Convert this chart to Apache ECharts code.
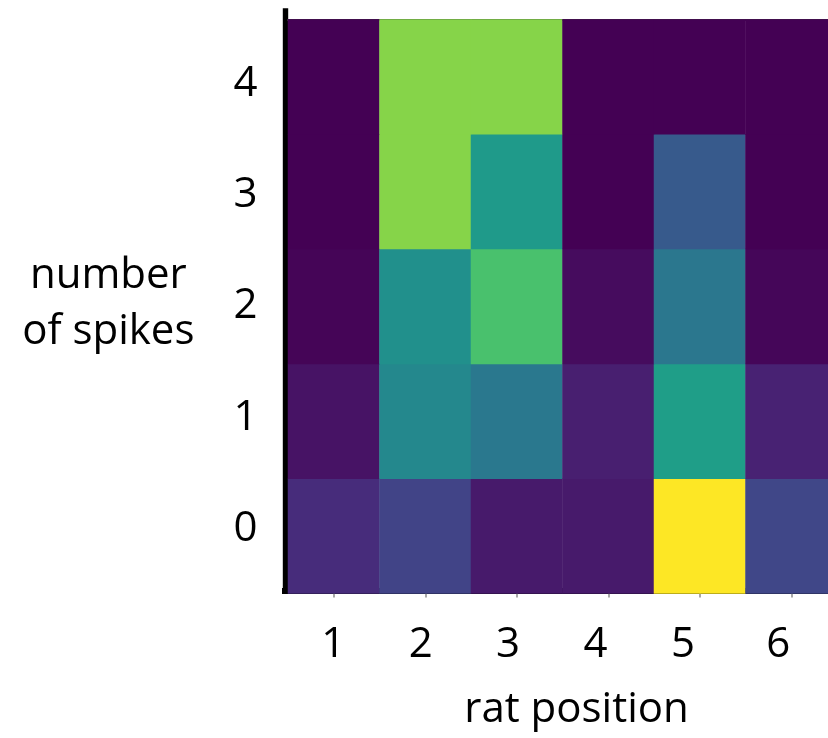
<!DOCTYPE html>
<html>
<head>
<meta charset="utf-8">
<script src="https://cdn.jsdelivr.net/npm/echarts@6/dist/echarts.min.js"></script>
<style>
  html, body { margin: 0; padding: 0; background: #fff; }
  #chart { width: 828px; height: 738px; }
</style>
</head>
<body>
<div id="chart"></div>
<script>
// Rat positions along the track (columns) and spike counts (rows)
const positions = ['1', '2', '3', '4', '5', '6'];
const spikeCounts = ['0', '1', '2', '3', '4'];

// Normalised probability of each spike count at each position (positions 1..6)
const spikes0 = [0.125, 0.20, 0.07, 0.07, 1.00, 0.21];
const spikes1 = [0.05, 0.465, 0.40, 0.085, 0.56, 0.095];
const spikes2 = [0.01, 0.495, 0.71, 0.03, 0.395, 0.015];
const spikes3 = [0.0, 0.818, 0.54, 0.0, 0.28, 0.0];
const spikes4 = [0.0, 0.818, 0.818, 0.0, 0.0, 0.0];

const rows = [spikes0, spikes1, spikes2, spikes3, spikes4];

// viridis colour ramp, sampled every 0.05
const viridis = [
  '#440154', '#471365', '#482475', '#463480', '#414487', '#3b528b', '#355f8d',
  '#2f6c8e', '#2a788e', '#25848e', '#21918c', '#1e9c89', '#22a884', '#2fb47c',
  '#44bf70', '#5ec962', '#7ad151', '#9bd93c', '#bddf26', '#dfe318', '#fde725'
];

const cells = [];
rows.forEach((row, y) => {
  row.forEach((v, x) => cells.push([x, y, v]));
});

const FONT = 'Open Sans';
const TXT = '#000';

const chart = echarts.init(document.getElementById('chart'), null, { renderer: 'canvas' });

chart.setOption({
  animation: false,
  backgroundColor: '#fff',
  grid: [
    // heat map cells (last column runs past the right edge)
    { left: 288, top: 19.5, width: 549, height: 574, outerBoundsMode: 'none' },
    // heavy L-shaped frame
    { left: 285, top: 11, width: 600, height: 580, outerBoundsMode: 'none' },
    // tick labels
    { left: 289.6, top: 28, width: 524.4, height: 557, outerBoundsMode: 'none' }
  ],
  xAxis: [
    {
      type: 'category', gridIndex: 0, data: positions,
      axisLine: { show: false },
      axisTick: { show: true, alignWithLabel: true, interval: 0, length: 4, lineStyle: { color: '#8a8a8a', width: 1.5 } },
      axisLabel: { show: false },
      splitLine: { show: false }
    },
    {
      type: 'category', gridIndex: 0, position: 'top', data: positions,
      axisLine: { show: true, lineStyle: { color: '#3a3a3a', width: 2 } },
      axisTick: { show: false }, axisLabel: { show: false }, splitLine: { show: false }
    },
    {
      type: 'value', gridIndex: 1, min: 0, max: 1,
      axisLine: { show: true, lineStyle: { color: '#000', width: 6, cap: 'square' } },
      axisTick: { show: false }, axisLabel: { show: false }, splitLine: { show: false }
    },
    {
      type: 'category', gridIndex: 2, data: positions,
      axisLine: { show: false }, axisTick: { show: false }, splitLine: { show: false },
      axisLabel: {
        interval: 0, hideOverlap: false,
        fontFamily: FONT, fontSize: 42, color: TXT,
        margin: 60, verticalAlign: 'middle',
        formatter: (v, i) => (i === positions.length - 1 ? '{last|' + v + '}' : v),
        rich: {
          last: { fontFamily: FONT, fontSize: 42, color: TXT, padding: [0, 0, 0, 16] }
        }
      }
    }
  ],
  yAxis: [
    {
      type: 'category', gridIndex: 0, data: spikeCounts,
      axisLine: { show: false }, axisTick: { show: false },
      axisLabel: { show: false }, splitLine: { show: false }
    },
    {
      type: 'value', gridIndex: 1, min: 0, max: 1,
      axisLine: { show: true, lineStyle: { color: '#000', width: 5.4, cap: 'square' } },
      axisTick: { show: false }, axisLabel: { show: false }, splitLine: { show: false }
    },
    {
      type: 'category', gridIndex: 2, data: spikeCounts,
      axisLine: { show: false }, axisTick: { show: false }, splitLine: { show: false },
      axisLabel: {
        interval: 0, hideOverlap: false,
        fontFamily: FONT, fontSize: 42, color: TXT,
        margin: 44, align: 'center'
      }
    }
  ],
  visualMap: {
    type: 'continuous', show: false, min: 0, max: 1, seriesIndex: 0,
    inRange: { color: viridis }
  },
  series: [
    {
      type: 'heatmap', xAxisIndex: 0, yAxisIndex: 0,
      data: cells,
      itemStyle: { borderWidth: 0 },
      emphasis: { disabled: true }
    }
  ],
  graphic: [
    {
      type: 'text', x: 576.5, y: 710,
      style: { text: 'rat position', font: '42px "Open Sans"', fill: TXT, align: 'center', verticalAlign: 'middle' }
    },
    {
      type: 'text', x: 108.3, y: 276.5,
      style: { text: 'number', font: '42px "Open Sans"', fill: TXT, align: 'center', verticalAlign: 'middle' }
    },
    {
      type: 'text', x: 108.3, y: 332,
      style: { text: 'of spikes', font: '42px "Open Sans"', fill: TXT, align: 'center', verticalAlign: 'middle' }
    }
  ]
});
</script>
</body>
</html>
